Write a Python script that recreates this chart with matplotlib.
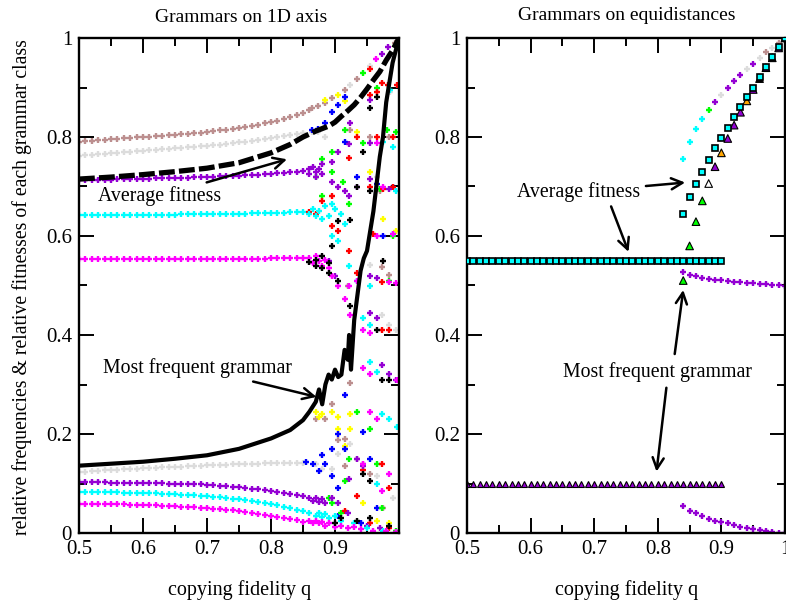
# Grammar class frequencies and fitnesses vs copying fidelity (two panels)

import numpy as np
import matplotlib.pyplot as plt
from matplotlib.ticker import MultipleLocator

plt.rcParams['font.family'] = ['Liberation Serif', 'DejaVu Serif']

# xmgrace-like colours
BLACK = 'black'
RED = '#ff0000'
GREEN = '#00ff00'
BLUE = '#0000ff'
YELLOW = '#ffff00'
BROWN = '#bc8f8f'
GREY = '#dcdcdc'
VIOLET = '#9400d3'
CYAN = '#00ffff'
MAGENTA = '#ff00ff'
ORANGE = '#ffa500'

# ---------------- left panel data ----------------
q_smooth = np.round(np.arange(0.50, 0.855, 0.01), 2)

brown_up = [.790, .791, .792, .793, .794, .795, .796, .797, .798, .799,
            .800, .801, .802, .803, .804, .805, .806, .807, .808, .809,
            .811, .812, .814, .815, .817, .819, .821, .823, .825, .828,
            .830, .833, .836, .840, .844, .849]
grey_up = [.762, .763, .764, .765, .766, .767, .768, .769, .770, .771,
           .772, .773, .774, .775, .776, .777, .778, .779, .780, .781,
           .782, .783, .784, .786, .787, .789, .790, .792, .794, .796,
           .798, .800, .802, .804, .806, .808]
violet_up = [.713, .713, .713, .714, .714, .714, .715, .715, .715, .716,
             .716, .716, .717, .717, .717, .718, .718, .718, .719, .719,
             .720, .720, .721, .721, .722, .722, .723, .724, .724, .725,
             .726, .727, .728, .729, .730, .731]
cyan_up = [.642, .642, .642, .642, .642, .642, .642, .642, .643, .643,
           .643, .643, .643, .643, .643, .643, .644, .644, .644, .644,
           .644, .644, .645, .645, .645, .645, .645, .646, .646, .646,
           .646, .647, .647, .648, .648, .649]
magenta_up = [.553, .553, .553, .553, .553, .553, .553, .553, .553, .553,
              .553, .553, .553, .553, .553, .553, .553, .553, .553, .553,
              .553, .553, .553, .553, .554, .554, .554, .554, .554, .554,
              .555, .555, .555, .555, .556, .556]
grey_low = [.123, .124, .125, .126, .127, .128, .128, .129, .130, .130,
            .131, .132, .132, .133, .133, .134, .134, .135, .135, .136,
            .137, .137, .138, .138, .139, .139, .140, .140, .140, .141,
            .141, .141, .142, .142, .142, .142]
violet_low = [.103, .103, .103, .103, .103, .102, .102, .102, .102, .102,
              .102, .101, .101, .101, .100, .100, .099, .099, .098, .098,
              .097, .096, .095, .094, .093, .092, .091, .089, .088, .086,
              .084, .082, .080, .078, .076, .074]
cyan_low = [.083, .083, .083, .082, .082, .082, .082, .081, .081, .081,
            .081, .080, .080, .079, .079, .078, .077, .077, .076, .075,
            .074, .073, .072, .071, .069, .068, .066, .064, .062, .060,
            .058, .056, .053, .050, .047, .044]
magenta_low = [.059, .059, .059, .059, .058, .058, .058, .058, .057, .057,
               .057, .056, .056, .055, .055, .054, .053, .053, .052, .051,
               .050, .049, .048, .047, .046, .044, .043, .041, .039, .037,
               .035, .033, .031, .028, .026, .023]

# scattered class values past the bifurcation (q, value)
black_pts = [(0.86, 0.548), (0.87, 0.552), (0.87, 0.540), (0.88, 0.560), (0.88, 0.535),
             (0.89, 0.525), (0.89, 0.545), (0.895, 0.58), (0.905, 0.63), (0.923, 0.632),
             (0.944, 0.77), (0.955, 0.858), (0.965, 0.88), (0.934, 0.70), (0.955, 0.69),
             (0.923, 0.459), (0.965, 0.41), (0.974, 0.31), (0.984, 0.31), (0.955, 0.106),
             (0.944, 0.12), (0.90, 0.02), (0.91, 0.03), (0.934, 0.025), (0.985, 0.015),
             (0.975, 0.55), (0.905, 0.51), (0.955, 0.03)]
red_pts = [(0.954, 0.937), (0.974, 0.910), (0.983, 0.906), (0.997, 0.906), (0.965, 0.891),
           (0.955, 0.885), (0.935, 0.80), (0.965, 0.80), (0.99, 0.80), (0.922, 0.757),
           (0.955, 0.70), (0.975, 0.695), (0.99, 0.70), (0.86, 0.648), (0.87, 0.645),
           (0.88, 0.67), (0.895, 0.68), (0.895, 0.62), (0.904, 0.61), (0.96, 0.605),
           (0.922, 0.57), (0.934, 0.526), (0.974, 0.508), (0.974, 0.41), (0.984, 0.41),
           (0.944, 0.128), (0.974, 0.14), (0.934, 0.075), (0.984, 0.09), (0.915, 0.045),
           (0.955, 0.02), (0.985, 0.01)]
green_pts = [(0.943, 0.930), (0.965, 0.90), (0.982, 0.815), (0.995, 0.81), (0.944, 0.787),
             (0.895, 0.77), (0.88, 0.755), (0.895, 0.73), (0.87, 0.72), (0.913, 0.71),
             (0.97, 0.695), (0.88, 0.68), (0.922, 0.665), (0.985, 0.51), (0.99, 0.60),
             (0.916, 0.814), (0.934, 0.245), (0.955, 0.21), (0.922, 0.15), (0.965, 0.14),
             (0.915, 0.105), (0.974, 0.05), (0.89, 0.07), (0.895, 0.06), (0.91, 0.04),
             (0.995, 0.005)]
blue_pts = [(0.864, 0.814), (0.874, 0.817), (0.884, 0.829), (0.895, 0.85), (0.904, 0.865),
            (0.915, 0.880), (0.916, 0.79), (0.935, 0.72), (0.965, 0.705), (0.99, 0.70),
            (0.975, 0.60), (0.915, 0.279), (0.944, 0.205), (0.904, 0.20), (0.895, 0.17),
            (0.915, 0.17), (0.955, 0.15), (0.88, 0.158), (0.884, 0.14), (0.865, 0.14),
            (0.855, 0.143), (0.875, 0.125), (0.895, 0.115), (0.904, 0.09), (0.965, 0.05),
            (0.94, 0.02), (0.905, 0.035)]
yellow_pts = [(0.884, 0.875), (0.904, 0.885), (0.915, 0.872), (0.935, 0.81), (0.955, 0.73),
              (0.975, 0.634), (0.995, 0.61), (0.87, 0.245), (0.875, 0.235), (0.88, 0.24),
              (0.895, 0.245), (0.905, 0.235), (0.923, 0.24), (0.905, 0.21), (0.923, 0.21),
              (0.915, 0.175), (0.944, 0.06), (0.965, 0.025), (0.985, 0.02)]
brown_pts = [(0.86, 0.855), (0.864, 0.858), (0.874, 0.862), (0.884, 0.868), (0.895, 0.878),
             (0.915, 0.895), (0.934, 0.917), (0.923, 0.814), (0.955, 0.80), (0.97, 0.69),
             (0.985, 0.80), (0.974, 0.538), (0.985, 0.521), (0.923, 0.304), (0.895, 0.26),
             (0.885, 0.23), (0.87, 0.23), (0.915, 0.19), (0.904, 0.188), (0.934, 0.15),
             (0.944, 0.14), (0.915, 0.136), (0.955, 0.12), (0.975, 0.05), (0.92, 0.50),
             (0.994, 0.99)]
grey_pts = [(0.864, 0.81), (0.874, 0.81), (0.885, 0.80), (0.955, 0.943), (0.986, 0.89),
            (0.965, 0.72), (0.955, 0.541), (0.974, 0.44), (0.984, 0.42), (0.995, 0.41),
            (0.905, 0.16), (0.915, 0.17), (0.923, 0.18), (0.895, 0.13), (0.87, 0.14),
            (0.88, 0.13), (0.965, 0.115), (0.99, 0.07), (0.923, 0.905)]
violet_pts = [(0.983, 0.981), (0.974, 0.968), (0.923, 0.829), (0.955, 0.875), (0.922, 0.786),
              (0.955, 0.787), (0.904, 0.77), (0.895, 0.75), (0.88, 0.745), (0.86, 0.735),
              (0.86, 0.725), (0.865, 0.74), (0.87, 0.73), (0.87, 0.72), (0.875, 0.735),
              (0.88, 0.725), (0.895, 0.71), (0.904, 0.70), (0.915, 0.69), (0.922, 0.68),
              (0.955, 0.715), (0.985, 0.695), (0.935, 0.70), (0.955, 0.52), (0.965, 0.515),
              (0.955, 0.445), (0.965, 0.435), (0.974, 0.339), (0.984, 0.322), (0.995, 0.31),
              (0.934, 0.15), (0.944, 0.135), (0.922, 0.11), (0.86, 0.07), (0.865, 0.065),
              (0.87, 0.07), (0.875, 0.062), (0.88, 0.068), (0.885, 0.06), (0.895, 0.07),
              (0.905, 0.06), (0.92, 0.04), (0.95, 0.015), (0.97, 0.01), (0.89, 0.55),
              (0.90, 0.52)]
cyan_pts = [(0.986, 0.895), (0.975, 0.79), (0.99, 0.78), (0.995, 0.69), (0.99, 0.605),
            (0.86, 0.645), (0.865, 0.655), (0.87, 0.64), (0.875, 0.65), (0.88, 0.635),
            (0.885, 0.66), (0.89, 0.64), (0.895, 0.665), (0.90, 0.655), (0.91, 0.645),
            (0.915, 0.625), (0.895, 0.60), (0.904, 0.59), (0.922, 0.54), (0.934, 0.51),
            (0.955, 0.50), (0.944, 0.434), (0.955, 0.42), (0.955, 0.346), (0.965, 0.326),
            (0.974, 0.24), (0.984, 0.23), (0.997, 0.214), (0.965, 0.10), (0.86, 0.04),
            (0.87, 0.035), (0.875, 0.04), (0.88, 0.032), (0.885, 0.038), (0.89, 0.03),
            (0.90, 0.035), (0.91, 0.025), (0.93, 0.02), (0.95, 0.01), (0.975, 0.005)]
magenta_pts = [(0.964, 0.957), (0.966, 0.787), (0.975, 0.70), (0.965, 0.60), (0.99, 0.605),
               (0.985, 0.508), (0.995, 0.505), (0.86, 0.555), (0.865, 0.545), (0.87, 0.56),
               (0.875, 0.55), (0.88, 0.54), (0.885, 0.552), (0.89, 0.535), (0.895, 0.52),
               (0.905, 0.50), (0.922, 0.50), (0.934, 0.51), (0.915, 0.472), (0.923, 0.44),
               (0.944, 0.41), (0.955, 0.405), (0.944, 0.334), (0.955, 0.322), (0.997, 0.31),
               (0.955, 0.245), (0.965, 0.23), (0.984, 0.12), (0.974, 0.085), (0.944, 0.14),
               (0.86, 0.025), (0.865, 0.02), (0.87, 0.025), (0.875, 0.02), (0.88, 0.022),
               (0.885, 0.015), (0.89, 0.02), (0.90, 0.012), (0.91, 0.015), (0.92, 0.01),
               (0.93, 0.012), (0.94, 0.008), (0.96, 0.005), (0.98, 0.005), (0.995, 0.002)]

# average fitness (dashed) and most frequent grammar (solid)
avg_q = [0.50, 0.55, 0.60, 0.65, 0.70, 0.75, 0.80, 0.83, 0.85, 0.87, 0.89, 0.90,
         0.91, 0.92, 0.93, 0.94, 0.95, 0.96, 0.97, 0.98, 0.99, 1.00]
avg_v = [0.715, 0.719, 0.724, 0.730, 0.737, 0.748, 0.768, 0.785, 0.800, 0.812, 0.822,
         0.830, 0.842, 0.853, 0.865, 0.880, 0.897, 0.915, 0.932, 0.955, 0.975, 1.0]
top_q = [0.50, 0.55, 0.60, 0.65, 0.70, 0.75, 0.80, 0.83, 0.85, 0.86, 0.87, 0.875,
         0.88, 0.885, 0.89, 0.895, 0.90, 0.905, 0.91, 0.915, 0.92, 0.922, 0.925,
         0.93, 0.935, 0.94, 0.945, 0.95, 0.96, 0.97, 0.975, 0.98, 0.99, 1.00]
top_v = [0.136, 0.140, 0.144, 0.150, 0.157, 0.170, 0.191, 0.208, 0.228, 0.245, 0.265,
         0.29, 0.26, 0.30, 0.32, 0.31, 0.33, 0.315, 0.32, 0.37, 0.35, 0.40, 0.33,
         0.43, 0.48, 0.53, 0.555, 0.57, 0.65, 0.76, 0.80, 0.87, 0.95, 1.0]

# ---------------- right panel data ----------------
q_flat = np.round(np.arange(0.50, 0.905, 0.01), 2)
avg_flat = 0.55
top_flat = 0.10
q_rise = np.round(np.arange(0.84, 1.005, 0.01), 2)
avg_rise = [0.644, 0.678, 0.705, 0.730, 0.754, 0.777, 0.797, 0.819, 0.840,
            0.861, 0.880, 0.900, 0.922, 0.942, 0.962, 0.981, 1.0]
top_rise = [0.510, 0.580, 0.629, 0.671, 0.706, 0.740, 0.768, 0.797, 0.824,
            0.850, 0.873, 0.896, 0.918, 0.940, 0.960, 0.980, 1.0]
top_rise_col = [GREEN, GREEN, GREEN, GREEN, 'white', VIOLET, ORANGE, VIOLET, VIOLET,
                VIOLET, ORANGE, VIOLET, BLACK, VIOLET, BLACK, VIOLET, BLACK]
upper_plus = [0.755, 0.790, 0.816, 0.836, 0.855, 0.871, 0.885, 0.898, 0.913,
              0.925, 0.937, 0.947, 0.960, 0.971, 0.980, 0.990, 1.0]
upper_plus_col = [CYAN, CYAN, CYAN, CYAN, GREEN, VIOLET, GREY, VIOLET, VIOLET,
                  VIOLET, GREY, VIOLET, GREY, BROWN, GREY, BROWN, BROWN]
mid_violet = [0.528, 0.522, 0.519, 0.516, 0.514, 0.512, 0.511, 0.509, 0.508,
              0.507, 0.506, 0.505, 0.504, 0.503, 0.502, 0.501, 0.500]
low_violet = [0.055, 0.045, 0.040, 0.034, 0.029, 0.025, 0.023, 0.020, 0.016,
              0.013, 0.011, 0.008, 0.006, 0.004, 0.002, 0.001, 0.0]

# ---------------- figure ----------------
fig = plt.figure(figsize=(7.86, 6.03), dpi=100)
ax1 = fig.add_axes([79/786, 70/603, 320/786, 495/603])
ax2 = fig.add_axes([467/786, 70/603, 318/786, 495/603])

plus = dict(marker='+', ls='none', ms=4.2, mew=1.7)

# smooth class curves
for vals, col in [(brown_up, BROWN), (grey_up, GREY), (violet_up, VIOLET),
                  (cyan_up, CYAN), (magenta_up, MAGENTA), (grey_low, GREY),
                  (violet_low, VIOLET), (cyan_low, CYAN), (magenta_low, MAGENTA)]:
    ax1.plot(q_smooth, vals, color=col, **plus)

# bifurcation cloud
for pts, col in [(grey_pts, GREY), (brown_pts, BROWN), (yellow_pts, YELLOW),
                 (blue_pts, BLUE), (green_pts, GREEN), (red_pts, RED),
                 (violet_pts, VIOLET), (cyan_pts, CYAN), (magenta_pts, MAGENTA),
                 (black_pts, BLACK)]:
    qq, vv = zip(*pts)
    ax1.plot(qq, vv, color=col, **plus)

ax1.plot(avg_q, avg_v, color='black', lw=3.8, dashes=(3.0, 0.8), zorder=5)
ax1.plot(top_q, top_v, color='black', lw=3.0, zorder=5)

arrow = dict(arrowstyle='->', lw=1.8, mutation_scale=20, color='black',
             shrinkA=2, shrinkB=0)
ax1.annotate('Average fitness', xy=(0.825, 0.755), xytext=(0.53, 0.681),
             fontsize=14.3, va='center', ha='left', arrowprops=arrow)
ax1.annotate('Most frequent grammar', xy=(0.871, 0.275), xytext=(0.538, 0.333),
             fontsize=14.3, va='center', ha='left', arrowprops=arrow)

# right panel
ax2.plot(q_flat, [top_flat]*len(q_flat), ls='none', marker='^', ms=5,
         mfc=VIOLET, mec='black', mew=0.8)
ax2.scatter(q_rise, top_rise, marker='^', s=30, c=top_rise_col,
            edgecolors='black', linewidths=0.8, zorder=3)
ax2.plot(q_flat, [avg_flat]*len(q_flat), ls='none', marker='s', ms=4.6,
         mfc=CYAN, mec='black', mew=1.2, zorder=4)
ax2.plot(q_rise, avg_rise, ls='none', marker='s', ms=5, mfc=CYAN, mec='black',
         mew=1.2, zorder=4)
for qv, vv, col in zip(q_rise, upper_plus, upper_plus_col):
    ax2.plot(qv, vv, color=col, **plus)
ax2.plot(q_rise, mid_violet, color=VIOLET, **plus)
ax2.plot(q_rise, low_violet, color=VIOLET, **plus)

ax2.annotate('Average fitness', xy=(0.843, 0.708), xytext=(0.579, 0.689),
             fontsize=14.3, va='center', ha='left', arrowprops=arrow)
ax2.annotate('', xy=(0.754, 0.568), xytext=(0.725, 0.665), arrowprops=arrow)
ax2.text(0.80, 0.325, 'Most frequent grammar', fontsize=14.3, ha='center', va='center')
ax2.annotate('', xy=(0.84, 0.491), xytext=(0.826, 0.356), arrowprops=arrow)
ax2.annotate('', xy=(0.798, 0.124), xytext=(0.814, 0.299), arrowprops=arrow)

# axes styling
for ax in (ax1, ax2):
    ax.set_xlim(0.5, 1.0)
    ax.set_ylim(0, 1)
    ax.set_yticks([0, 0.2, 0.4, 0.6, 0.8, 1.0], ['0', '0.2', '0.4', '0.6', '0.8', '1'])
    ax.xaxis.set_minor_locator(MultipleLocator(0.05))
    ax.yaxis.set_minor_locator(MultipleLocator(0.1))
    ax.tick_params(which='major', direction='in', length=11, width=1.4,
                   top=True, right=True, labelsize=15, pad=5)
    ax.tick_params(which='minor', direction='in', length=6, width=1.4,
                   top=True, right=True)
    for sp in ax.spines.values():
        sp.set_linewidth(1.7)

ax1.set_xticks([0.5, 0.6, 0.7, 0.8, 0.9, 1.0], ['0.5', '0.6', '0.7', '0.8', '0.9', ''])
ax2.set_xticks([0.5, 0.6, 0.7, 0.8, 0.9, 1.0], ['0.5', '0.6', '0.7', '0.8', '0.9', '1'])

# titles and labels
fig.text(241/786, 1 - 18/603, 'Grammars on 1D axis', fontsize=14, ha='center', va='center')
fig.text(627/786, 1 - 15/603, 'Grammars on equidistances', fontsize=14, ha='center', va='center')
fig.text(240/786, 1 - 590/603, 'copying fidelity q', fontsize=14.5, ha='center', va='center')
fig.text(627/786, 1 - 590/603, 'copying fidelity q', fontsize=14.5, ha='center', va='center')
fig.text(22/786, 1 - 287/603,
         'relative frequencies & relative fitnesses of each grammar class',
         fontsize=14.2, rotation=90, ha='center', va='center')

fig.savefig('out.png', dpi=100)
